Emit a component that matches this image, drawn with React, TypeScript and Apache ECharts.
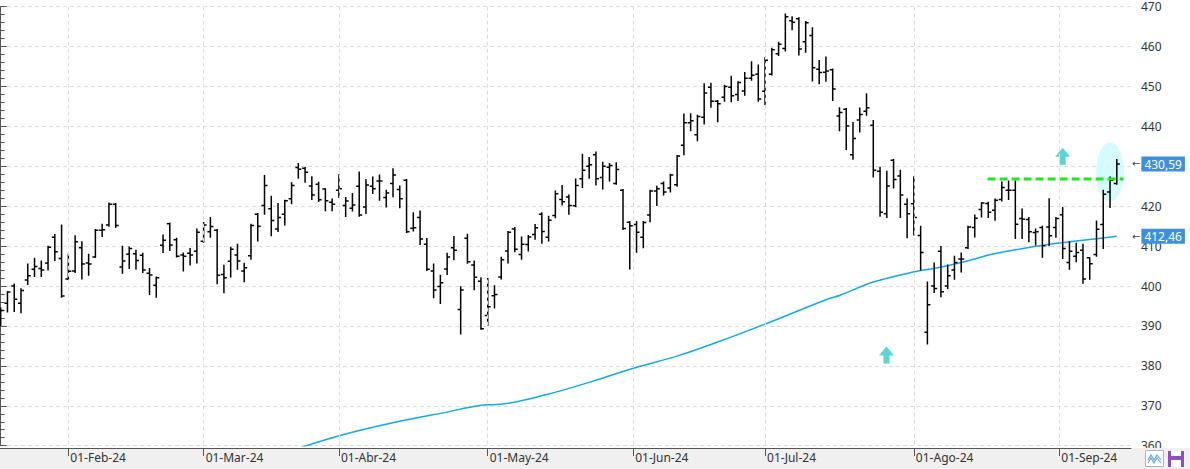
import React, { useEffect, useRef } from "react";
import * as echarts from "echarts";

// Daily OHLC bars, 18-Jan-24 .. 13-Sep-24 (trading days, index 0..165)
const open = [
  391.7, 395.7, 400.0, 395.7, 401.5, 404.2, 404.4, 405.8, 412.2, 406.9,
  401.8, 403.8, 409.6, 405.8, 407.3, 414.0, 415.3, 420.5, 404.8, 408.0,
  408.1, 407.7, 403.2, 400.2, 410.2, 415.6, 411.6, 407.8, 408.2, 408.7,
  411.2, 413.6, 414.0, 402.9, 406.2, 407.8, 403.8, 407.6, 418.0, 420.2,
  419.4, 414.3, 418.0, 421.9, 429.7, 429.5, 425.1, 425.5, 424.3, 421.0,
  424.0, 420.2, 419.5, 425.0, 419.8, 425.0, 426.3, 422.2, 425.7, 424.2,
  426.5, 414.5, 417.2, 410.5, 403.8, 399.9, 404.3, 409.6, 394.1, 412.0,
  405.3, 401.2, 392.6, 397.6, 402.3, 408.8, 414.3, 407.9, 410.4, 412.9,
  418.0, 412.2, 417.7, 421.7, 422.3, 420.1, 426.9, 430.0, 432.9, 427.2,
  429.8, 425.7, 424.0, 416.0, 415.4, 412.2, 417.8, 423.8, 425.7, 424.6,
  425.4, 435.3, 440.9, 437.9, 442.3, 449.8, 446.3, 447.3, 449.8, 448.0,
  448.9, 452.1, 453.1, 448.8, 453.1, 458.2, 459.5, 466.5, 467.0, 461.2,
  462.8, 454.3, 453.6, 454.2, 442.6, 444.3, 432.9, 441.6, 443.8, 440.3,
  428.8, 418.1, 431.5, 427.6, 420.5, 420.6, 412.7, 388.4, 400.0, 408.7,
  400.0, 404.0, 406.8, 409.6, 414.7, 419.2, 420.7, 419.0, 421.7, 424.0,
  424.0, 416.9, 416.7, 413.4, 414.7, 414.8, 414.7, 417.9, 405.9, 407.5,
  409.0, 407.1, 407.9, 415.4, 423.6, 425.7,
];
const high = [
  394.5, 398.6, 400.5, 399.3, 405.5, 407.0, 406.3, 410.0, 412.9, 415.3,
  408.0, 412.6, 411.1, 408.0, 414.2, 415.5, 420.8, 420.7, 410.0, 409.8,
  409.0, 408.2, 404.4, 402.3, 412.8, 415.8, 412.0, 408.3, 409.4, 414.3,
  415.9, 417.2, 414.2, 405.2, 409.7, 410.5, 405.7, 415.5, 418.2, 427.7,
  422.5, 420.7, 421.5, 425.9, 430.7, 429.7, 427.4, 426.0, 424.4, 421.8,
  427.9, 422.2, 423.2, 428.6, 426.7, 427.3, 427.8, 424.0, 429.4, 425.1,
  426.7, 418.4, 418.8, 411.9, 405.5, 402.7, 408.2, 412.4, 399.8, 413.0,
  406.3, 402.1, 401.9, 400.1, 407.2, 413.7, 414.7, 412.3, 412.7, 415.4,
  418.4, 417.5, 423.8, 425.2, 422.8, 426.8, 433.0, 432.2, 433.6, 431.0,
  430.7, 430.9, 424.2, 416.2, 416.2, 416.2, 424.0, 425.0, 426.1, 428.0,
  432.7, 443.1, 443.2, 442.8, 450.7, 450.8, 446.5, 450.3, 452.6, 451.2,
  453.5, 456.2, 455.4, 457.3, 459.6, 461.1, 468.2, 467.5, 467.2, 466.3,
  464.7, 456.5, 457.4, 454.4, 444.7, 444.5, 441.0, 444.6, 448.2, 441.5,
  429.8, 428.8, 431.7, 429.0, 421.8, 427.4, 415.0, 401.0, 405.8, 409.9,
  405.3, 407.5, 408.3, 415.0, 417.8, 420.9, 421.0, 421.8, 426.1, 426.3,
  426.3, 419.3, 417.2, 414.3, 415.0, 421.9, 417.2, 419.7, 411.1, 410.7,
  410.5, 407.1, 416.3, 424.0, 427.3, 431.7,
];
const low = [
  390.1, 393.5, 393.6, 393.3, 400.4, 402.4, 402.4, 404.0, 406.4, 397.2,
  401.7, 403.4, 401.8, 402.7, 407.2, 412.4, 415.0, 414.7, 403.2, 404.4,
  404.2, 403.4, 397.9, 397.2, 408.4, 408.9, 407.3, 403.8, 405.3, 405.8,
  411.0, 412.2, 400.6, 398.3, 402.3, 404.2, 401.1, 406.7, 411.3, 418.0,
  412.6, 413.7, 415.3, 420.6, 427.0, 426.0, 421.7, 421.2, 418.9, 418.9,
  422.2, 417.4, 418.8, 417.5, 418.2, 423.2, 421.5, 419.8, 422.4, 419.6,
  413.4, 413.8, 410.4, 403.9, 397.1, 395.6, 402.9, 406.6, 388.0, 405.7,
  399.1, 389.2, 390.1, 394.5, 401.8, 405.8, 408.6, 406.7, 408.8, 411.7,
  410.7, 411.3, 417.1, 420.3, 418.0, 419.9, 424.7, 427.0, 425.3, 424.3,
  426.3, 425.5, 414.2, 404.3, 408.5, 409.6, 416.1, 420.2, 422.8, 423.6,
  425.0, 432.9, 438.9, 436.4, 440.6, 444.8, 441.2, 446.3, 446.2, 446.5,
  447.8, 451.6, 446.3, 445.5, 452.9, 457.8, 458.9, 464.2, 457.9, 458.6,
  451.4, 450.7, 451.3, 446.5, 438.9, 434.2, 431.8, 438.6, 442.8, 427.3,
  417.5, 417.2, 424.6, 417.2, 412.1, 412.8, 404.0, 385.5, 398.4, 397.3,
  399.4, 401.7, 403.5, 409.4, 412.3, 417.3, 417.2, 416.5, 421.3, 421.7,
  411.9, 411.9, 411.1, 410.3, 407.2, 410.1, 412.2, 406.9, 404.2, 406.1,
  400.7, 401.7, 407.5, 409.4, 419.7, 425.5,
];
const close = [
  393.9, 398.5, 396.7, 398.9, 402.6, 404.9, 404.0, 409.7, 408.6, 397.5,
  403.7, 411.1, 405.5, 405.5, 414.0, 414.1, 420.5, 415.2, 406.3, 409.4,
  406.4, 404.0, 402.8, 402.1, 411.5, 410.3, 407.5, 407.5, 407.8, 413.5,
  415.3, 414.9, 402.7, 402.1, 409.2, 406.3, 404.6, 415.2, 415.0, 425.2,
  416.4, 417.2, 421.4, 425.2, 429.3, 428.5, 422.8, 421.6, 421.4, 420.5,
  424.4, 421.3, 420.3, 417.8, 425.3, 424.4, 426.3, 423.3, 427.8, 421.9,
  413.6, 414.6, 411.8, 404.2, 399.0, 400.8, 407.3, 409.0, 399.0, 406.1,
  402.2, 389.3, 394.8, 397.9, 406.6, 413.5, 409.2, 410.5, 412.3, 414.6,
  413.7, 416.5, 423.1, 421.1, 420.2, 425.2, 429.0, 430.4, 426.9, 430.0,
  430.2, 429.2, 414.4, 415.1, 413.5, 415.9, 423.8, 424.4, 423.6, 427.8,
  432.6, 440.9, 441.4, 442.5, 448.4, 446.3, 445.7, 450.0, 447.7, 451.0,
  452.1, 452.8, 446.9, 456.6, 459.2, 460.6, 467.5, 466.1, 459.4, 466.0,
  454.7, 453.5, 453.9, 449.4, 443.5, 440.1, 437.0, 443.0, 444.7, 429.0,
  418.5, 425.1, 426.7, 422.8, 418.1, 417.2, 408.4, 395.3, 399.4, 398.6,
  402.6, 405.9, 406.8, 414.8, 417.0, 420.8, 418.5, 421.5, 424.7, 424.0,
  415.5, 416.75, 413.6, 413.6, 410.1, 412.6, 416.9, 409.4, 408.7, 408.4,
  401.8, 405.6, 414.25, 423.0, 426.5, 430.59,
];

// Month labels on the time axis (bar index where the month starts)
const monthTickIndex = [10, 30, 50, 72, 93.5, 113, 135, 156.5];
const monthLabels = [
  "01-Feb-24", "01-Mar-24", "01-Abr-24", "01-May-24",
  "01-Jun-24", "01-Jul-24", "01-Ago-24", "01-Sep-24",
];

// Long moving average, read at points along the curve (bar index, value)
const maIndex = [44.5, 50.06, 58.3, 65.05, 71.95, 73.3, 80.9, 87.7, 93.4, 100.1, 105.8, 112.9, 122.2, 124.1, 129.0, 134.9, 138.9, 143.8, 146.2, 149.7, 154.6, 159.6, 165];
const maValue = [359.6, 362.5, 365.85, 368.1, 370.25, 370.3, 372.9, 376.25, 379.35, 382.5, 385.85, 390.4, 396.7, 397.7, 401.0, 403.5, 404.7, 406.7, 407.85, 409.0, 410.35, 411.4, 412.46];

// Price axis
const yMin = 360;
const yMax = 470;
const yStep = 10;

// Annotations
const lastClose = 430.59;
const lastMA = 412.46;
const resistanceLevel = 426.85;
const resistanceFrom = 145.9;
const resistanceTo = 166;
const arrowPoints = [
  [130.95, 382.7],
  [157.0, 432.5],
];
const highlightPoint = [164.0, 428.6];

const FONT = "Noto Sans";
const fmt = (v: number) => v.toFixed(2).replace(".", ",");

export default function App() {
  const ref = useRef<HTMLDivElement>(null);
  useEffect(() => {
    document.body.style.margin = "0";
    const chart = echarts.init(ref.current!, null, { renderer: "svg" });
    const ohlc = close.map((c, i) => [i, open[i], high[i], low[i], c]);
    const ma = maIndex.map((x, i) => [x, maValue[i]]);

    const priceTag = (v: number) => ({
      yAxis: v,
      label: {
        show: true,
        position: "end",
        distance: 1,
        opacity: 1,
        formatter: "{a|\u2190}{b|" + fmt(v) + "}",
        rich: {
          a: { color: "#444", fontSize: 10, fontFamily: "DejaVu Sans", padding: [0, 1, 0, 0] },
          b: {
            color: "#fff",
            backgroundColor: "#3d8fe1",
            fontSize: 12,
            fontFamily: FONT,
            padding: [2, 3, 1, 3],
          },
        },
      },
    });

    const option: any = {
      animation: false,
      backgroundColor: "#fff",
      textStyle: { fontFamily: FONT },
      grid: { left: 0, top: 6.7, width: 1131, height: 439, containLabel: false },
      xAxis: {
        type: "value",
        min: -0.1035,
        max: 167.1,
        offset: 2.3,
        z: 10,
        axisLine: { show: true, lineStyle: { color: "#555", width: 1 } },
        axisTick: {
          show: true,
          customValues: monthTickIndex,
          length: 8,
          lineStyle: { color: "#555" },
        },
        axisLabel: {
          show: true,
          customValues: monthTickIndex,
          formatter: (v: number) => {
            const k = monthTickIndex.indexOf(v);
            return k >= 0 ? monthLabels[k] : "";
          },
          align: "left",
          padding: [0, 0, 0, 2],
          margin: 3,
          color: "#333",
          fontSize: 12,
          fontFamily: FONT,
        },
        splitLine: { show: true, lineStyle: { color: "#dcdcdc", type: [4, 3], width: 1 } },
      },
      yAxis: {
        type: "value",
        position: "right",
        min: yMin,
        max: yMax,
        interval: yStep,
        z: 0,
        axisLine: { show: true, lineStyle: { color: "#555", width: 1 } },
        axisTick: { show: true, length: 6, lineStyle: { color: "#555" } },
        minorTick: { show: true, splitNumber: 5, length: 4, lineStyle: { color: "#555" } },
        axisLabel: { color: "#333", fontSize: 12, margin: 10, fontFamily: FONT },
        splitLine: { show: true, lineStyle: { color: "#dcdcdc", type: [4, 3], width: 1 } },
      },
      series: [
        {
          type: "scatter",
          z: 1,
          silent: true,
          symbol: "circle",
          symbolSize: [28, 59],
          itemStyle: { color: "#c9fbfb" },
          data: [highlightPoint],
        },
        {
          type: "line",
          z: 2,
          silent: true,
          symbol: "none",
          smooth: 0.35,
          lineStyle: { color: "#14a8e6", width: 1.5 },
          data: ma,
        },
        {
          type: "custom",
          z: 3,
          silent: true,
          clip: true,
          encode: { x: 0, y: [1, 2, 3, 4] },
          data: ohlc,
          renderItem: (params: any, api: any) => {
            const i = api.value(0);
            const pO = api.coord([i, api.value(1)]);
            const pH = api.coord([i, api.value(2)]);
            const pL = api.coord([i, api.value(3)]);
            const pC = api.coord([i, api.value(4)]);
            const cx = pH[0];
            const st = { stroke: "#000", lineWidth: 1.5 };
            return {
              type: "group",
              children: [
                { type: "line", shape: { x1: cx, y1: pH[1] - 0.5, x2: cx, y2: pL[1] + 0.5 }, style: st },
                { type: "line", shape: { x1: cx - 3, y1: pO[1], x2: cx, y2: pO[1] }, style: st },
                { type: "line", shape: { x1: cx, y1: pC[1], x2: cx + 3, y2: pC[1] }, style: st },
              ],
            };
          },
        },
        {
          type: "line",
          z: 4,
          silent: true,
          symbol: "none",
          lineStyle: { color: "#1fe81f", width: 3, type: [8, 4] },
          data: [
            [resistanceFrom, resistanceLevel],
            [resistanceTo, resistanceLevel],
          ],
        },
        {
          type: "scatter",
          z: 5,
          silent: true,
          symbol: "path://M7.5,0 L15,9 L10.5,9 L10.5,17 L4.5,17 L4.5,9 L0,9 Z",
          symbolSize: [15, 17],
          itemStyle: { color: "#35c8c8" },
          data: arrowPoints,
        },
        {
          type: "line",
          z: 6,
          silent: true,
          symbol: "none",
          data: [],
          markLine: {
            silent: true,
            symbol: ["none", "none"],
            lineStyle: { color: "rgba(0,0,0,0)", width: 0, opacity: 1 },
            data: [priceTag(lastClose), priceTag(lastMA)],
          },
        },
      ],
      graphic: [
        {
          type: "rect",
          z: 5,
          silent: true,
          shape: { x: 0, y: 448, width: 1190, height: 21 },
          style: { fill: "#f0f0f0" },
        },
        {
          type: "rect",
          z: 6,
          silent: true,
          shape: { x: 1145.5, y: 450.5, width: 18, height: 16 },
          style: { fill: "#fff", stroke: "#b5b5b5", lineWidth: 1 },
        },
        {
          type: "polyline",
          z: 7,
          silent: true,
          shape: { points: [[1148, 460], [1151, 455], [1154, 460], [1157, 455], [1161, 460]] },
          style: { stroke: "#6aa8d8", lineWidth: 1.2, fill: "none" },
        },
        {
          type: "polyline",
          z: 7,
          silent: true,
          shape: { points: [[1148, 463], [1151, 458], [1154, 463], [1157, 458], [1161, 463]] },
          style: { stroke: "#6aa8d8", lineWidth: 1.2, fill: "none" },
        },
        {
          type: "rect",
          z: 6,
          silent: true,
          shape: { x: 1168, y: 451, width: 16, height: 16 },
          style: { fill: "#8f4fc4" },
        },
        {
          type: "rect",
          z: 7,
          silent: true,
          shape: { x: 1171, y: 451, width: 10, height: 5 },
          style: { fill: "#fff" },
        },
        {
          type: "rect",
          z: 7,
          silent: true,
          shape: { x: 1171, y: 460, width: 10, height: 7 },
          style: { fill: "#fff" },
        },
      ],
    };
    chart.setOption(option);
    return () => chart.dispose();
  }, []);
  return (
    <div
      ref={ref}
      style={{ position: "absolute", left: 0, top: 0, width: 1190, height: 469, background: "#fff" }}
    />
  );
}
